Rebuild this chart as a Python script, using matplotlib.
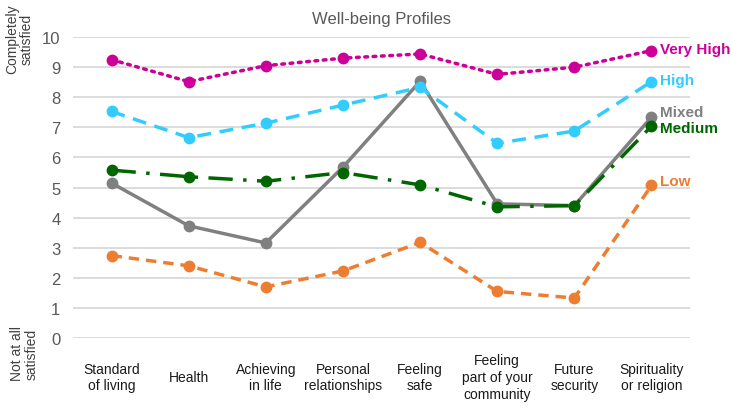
import matplotlib.pyplot as plt

plt.rcParams['font.family'] = ['Liberation Sans', 'DejaVu Sans']

categories = ["Standard\nof living", "Health", "Achieving\nin life", "Personal\nrelationships",
              "Feeling\nsafe", "Feeling\npart of your\ncommunity", "Future\nsecurity",
              "Spirituality\nor religion"]

very_high = [9.25, 8.52, 9.05, 9.30, 9.44, 8.76, 9.00, 9.55]
high = [7.53, 6.66, 7.14, 7.74, 8.33, 6.47, 6.88, 8.52]
mixed = [5.15, 3.73, 3.16, 5.68, 8.53, 4.46, 4.40, 7.34]
medium = [5.58, 5.36, 5.21, 5.50, 5.09, 4.36, 4.40, 7.04]
low = [2.74, 2.40, 1.70, 2.23, 3.18, 1.55, 1.33, 5.07]

x = list(range(len(categories)))

fig = plt.figure(figsize=(7.32, 4.14), dpi=100)
ax = fig.add_axes([0.0997, 0.181, 0.843, 0.727])

# series: values, colour, linestyle, label, label y offset (points)
series = [
    (mixed, '#808080', '-', 'Mixed', 4),
    (low, '#ED7D31', (0, (3, 2)), 'Low', 3),
    (medium, '#006600', (0, (7, 3, 1, 3)), 'Medium', -1),
    (high, '#33CCFF', (0, (4, 2.5)), 'High', 1),
    (very_high, '#CC0099', (0, (0.8, 1.6)), 'Very High', 1),
]

for vals, col, ls, name, dy in series:
    ax.plot(x, vals, color=col, linestyle=ls, linewidth=2.5, marker='o',
            markersize=7.5, clip_on=False, dash_capstyle='round' if name == 'Very High' else 'butt')
    ax.annotate(name, (x[-1], vals[-1]), xytext=(6, dy), textcoords='offset points',
                color=col, fontsize=11, fontweight='bold', va='center', ha='left')

ax.set_xlim(-0.5, 7.5)
ax.set_ylim(0, 10)
ax.set_yticks(range(0, 11))
ax.yaxis.grid(True, color='#d9d9d9', linewidth=1.3)
ax.set_axisbelow(True)
for s in ax.spines.values():
    s.set_visible(False)

ax.set_xticks(x)
ax.set_xticklabels(categories, fontsize=10, color='#1a1a1a', va='center', linespacing=1.25)
ax.tick_params(axis='x', length=0, pad=28)
ax.tick_params(axis='y', length=0, pad=9, labelsize=12, labelcolor='#595959')

ax.set_title("Well-being Profiles", fontsize=12, color='#595959', pad=10)

fig.text(0.027, 0.905, "Completely\nsatisfied", rotation=90, fontsize=10, color='#404040',
         ha='center', va='center', linespacing=1.05)
fig.text(0.033, 0.145, "Not at all\nsatisfied", rotation=90, fontsize=10, color='#404040',
         ha='center', va='center', linespacing=1.05)

fig.savefig('out.png', dpi=100)
